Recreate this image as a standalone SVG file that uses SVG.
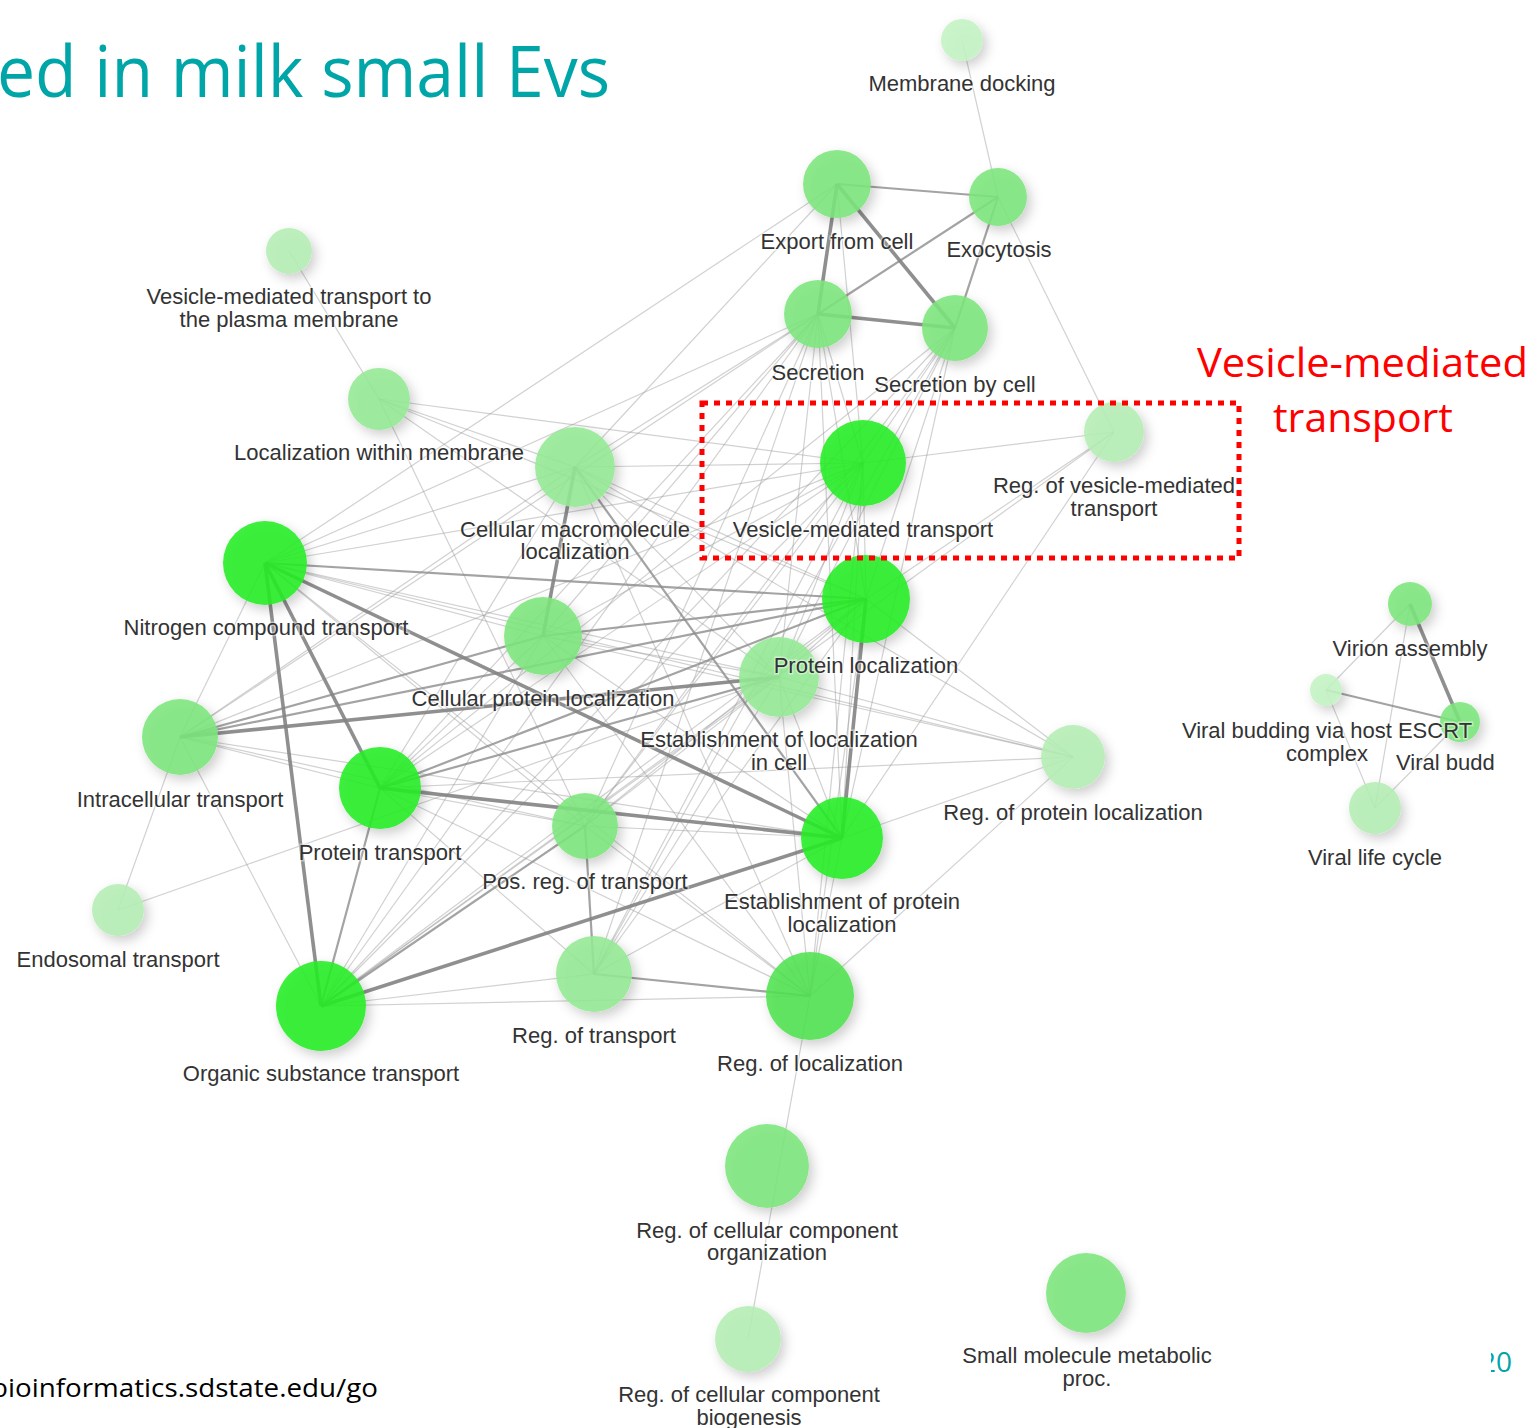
<svg xmlns="http://www.w3.org/2000/svg" width="1535" height="1428" viewBox="0 0 1535 1428">
  <style>
    .e1 { stroke: #9a9a9a; stroke-opacity: 0.45; stroke-width: 1.2; }
    .e2 { stroke: #8c8c8c; stroke-opacity: 0.8; stroke-width: 2.2; }
    .e3 { stroke: #838383; stroke-opacity: 0.9; stroke-width: 3.6; }
    .node circle { filter: url(#shadow); fill-opacity: 0.88; }
    .lbl { font-family: "Liberation Sans", Arial, sans-serif; font-size: 22px; fill: #333; text-anchor: middle;
           stroke: #fff; stroke-opacity: 0.45; stroke-width: 3; paint-order: stroke; }
    .bright { fill: #22ee22; }
    .rl { fill: #50e250; }
    .mid { fill: #7ce67c; }
    .midl { fill: #94e994; }
    .light { fill: #b4eeb4; }
    .pale { fill: #c4f3c4; }
  </style>
  <defs>
    <filter id="shadow" x="-40%" y="-40%" width="190%" height="190%">
      <feDropShadow dx="4" dy="5" stdDeviation="6" flood-color="#000" flood-opacity="0.22"/>
    </filter>
    <clipPath id="pageclip">
      <rect x="1491" y="1330" width="44" height="60"/>
    </clipPath>
  </defs>

  <rect width="1535" height="1428" fill="#fff"/>

  <!-- slide title, cut by the left edge -->
  <text x="-3" y="97" font-family="'Open Sans', 'Noto Sans', sans-serif" font-size="72" fill="#00a5a8" textLength="613" lengthAdjust="spacingAndGlyphs">ed in milk small Evs</text>

  <!-- connectors -->
  <g id="edges" fill="none">
    <g class="e1">
      <line x1="962" y1="40" x2="998" y2="197"/>
      <line x1="998" y1="197" x2="1114" y2="432"/>
      <line x1="289" y1="251" x2="379" y2="399"/>
      <line x1="379" y1="399" x2="575" y2="467"/>
      <line x1="379" y1="399" x2="863" y2="463"/>
      <line x1="379" y1="399" x2="866" y2="599"/>
      <line x1="379" y1="399" x2="779" y2="677"/>
      <line x1="379" y1="399" x2="585" y2="826"/>
      <line x1="265" y1="563" x2="575" y2="467"/>
      <line x1="265" y1="563" x2="863" y2="463"/>
      <line x1="265" y1="563" x2="543" y2="636"/>
      <line x1="265" y1="563" x2="779" y2="677"/>
      <line x1="265" y1="563" x2="180" y2="737"/>
      <line x1="265" y1="563" x2="837" y2="184"/>
      <line x1="265" y1="563" x2="818" y2="314"/>
      <line x1="265" y1="563" x2="1073" y2="757"/>
      <line x1="265" y1="563" x2="810" y2="996"/>
      <line x1="180" y1="737" x2="118" y2="910"/>
      <line x1="180" y1="737" x2="321" y2="1006"/>
      <line x1="180" y1="737" x2="863" y2="463"/>
      <line x1="180" y1="737" x2="575" y2="467"/>
      <line x1="180" y1="737" x2="380" y2="788"/>
      <line x1="180" y1="737" x2="842" y2="838"/>
      <line x1="180" y1="737" x2="818" y2="314"/>
      <line x1="118" y1="910" x2="779" y2="677"/>
      <line x1="380" y1="788" x2="863" y2="463"/>
      <line x1="380" y1="788" x2="818" y2="314"/>
      <line x1="380" y1="788" x2="955" y2="328"/>
      <line x1="380" y1="788" x2="543" y2="636"/>
      <line x1="380" y1="788" x2="585" y2="826"/>
      <line x1="380" y1="788" x2="594" y2="974"/>
      <line x1="380" y1="788" x2="810" y2="996"/>
      <line x1="380" y1="788" x2="1073" y2="757"/>
      <line x1="380" y1="788" x2="575" y2="467"/>
      <line x1="321" y1="1006" x2="863" y2="463"/>
      <line x1="321" y1="1006" x2="866" y2="599"/>
      <line x1="321" y1="1006" x2="543" y2="636"/>
      <line x1="321" y1="1006" x2="779" y2="677"/>
      <line x1="321" y1="1006" x2="594" y2="974"/>
      <line x1="321" y1="1006" x2="810" y2="996"/>
      <line x1="321" y1="1006" x2="818" y2="314"/>
      <line x1="321" y1="1006" x2="955" y2="328"/>
      <line x1="321" y1="1006" x2="1114" y2="432"/>
      <line x1="543" y1="636" x2="863" y2="463"/>
      <line x1="543" y1="636" x2="779" y2="677"/>
      <line x1="543" y1="636" x2="842" y2="838"/>
      <line x1="543" y1="636" x2="810" y2="996"/>
      <line x1="543" y1="636" x2="1073" y2="757"/>
      <line x1="543" y1="636" x2="818" y2="314"/>
      <line x1="575" y1="467" x2="863" y2="463"/>
      <line x1="575" y1="467" x2="837" y2="184"/>
      <line x1="575" y1="467" x2="818" y2="314"/>
      <line x1="575" y1="467" x2="779" y2="677"/>
      <line x1="575" y1="467" x2="866" y2="599"/>
      <line x1="575" y1="467" x2="1073" y2="757"/>
      <line x1="575" y1="467" x2="810" y2="996"/>
      <line x1="863" y1="463" x2="866" y2="599"/>
      <line x1="863" y1="463" x2="779" y2="677"/>
      <line x1="863" y1="463" x2="818" y2="314"/>
      <line x1="863" y1="463" x2="955" y2="328"/>
      <line x1="863" y1="463" x2="837" y2="184"/>
      <line x1="863" y1="463" x2="1114" y2="432"/>
      <line x1="863" y1="463" x2="585" y2="826"/>
      <line x1="863" y1="463" x2="594" y2="974"/>
      <line x1="863" y1="463" x2="810" y2="996"/>
      <line x1="863" y1="463" x2="842" y2="838"/>
      <line x1="866" y1="599" x2="1073" y2="757"/>
      <line x1="866" y1="599" x2="779" y2="677"/>
      <line x1="866" y1="599" x2="818" y2="314"/>
      <line x1="866" y1="599" x2="955" y2="328"/>
      <line x1="866" y1="599" x2="1114" y2="432"/>
      <line x1="866" y1="599" x2="594" y2="974"/>
      <line x1="866" y1="599" x2="585" y2="826"/>
      <line x1="866" y1="599" x2="810" y2="996"/>
      <line x1="842" y1="838" x2="1073" y2="757"/>
      <line x1="842" y1="838" x2="810" y2="996"/>
      <line x1="842" y1="838" x2="779" y2="677"/>
      <line x1="842" y1="838" x2="594" y2="974"/>
      <line x1="842" y1="838" x2="585" y2="826"/>
      <line x1="842" y1="838" x2="1114" y2="432"/>
      <line x1="842" y1="838" x2="818" y2="314"/>
      <line x1="842" y1="838" x2="955" y2="328"/>
      <line x1="779" y1="677" x2="810" y2="996"/>
      <line x1="779" y1="677" x2="594" y2="974"/>
      <line x1="779" y1="677" x2="585" y2="826"/>
      <line x1="779" y1="677" x2="818" y2="314"/>
      <line x1="779" y1="677" x2="955" y2="328"/>
      <line x1="779" y1="677" x2="1073" y2="757"/>
      <line x1="1073" y1="757" x2="810" y2="996"/>
      <line x1="810" y1="996" x2="748" y2="1339"/>
      <line x1="585" y1="826" x2="810" y2="996"/>
      <line x1="585" y1="826" x2="818" y2="314"/>
      <line x1="585" y1="826" x2="955" y2="328"/>
      <line x1="585" y1="826" x2="265" y2="563"/>
      <line x1="585" y1="826" x2="180" y2="737"/>
      <line x1="594" y1="974" x2="818" y2="314"/>
      <line x1="594" y1="974" x2="955" y2="328"/>
      <line x1="1410" y1="604" x2="1326" y2="690"/>
      <line x1="1410" y1="604" x2="1375" y2="808"/>
      <line x1="1326" y1="690" x2="1375" y2="808"/>
      <line x1="1460" y1="722" x2="1375" y2="808"/>
    </g>
    <g class="e2">
      <line x1="837" y1="184" x2="998" y2="197"/>
      <line x1="818" y1="314" x2="998" y2="197"/>
      <line x1="955" y1="328" x2="998" y2="197"/>
      <line x1="265" y1="563" x2="866" y2="599"/>
      <line x1="543" y1="636" x2="866" y2="599"/>
      <line x1="380" y1="788" x2="866" y2="599"/>
      <line x1="380" y1="788" x2="321" y2="1006"/>
      <line x1="321" y1="1006" x2="585" y2="826"/>
      <line x1="585" y1="826" x2="594" y2="974"/>
      <line x1="594" y1="974" x2="810" y2="996"/>
      <line x1="575" y1="467" x2="842" y2="838"/>
      <line x1="180" y1="737" x2="543" y2="636"/>
      <line x1="380" y1="788" x2="779" y2="677"/>
      <line x1="180" y1="737" x2="866" y2="599"/>
      <line x1="1326" y1="690" x2="1460" y2="722"/>
    </g>
    <g class="e3">
      <line x1="837" y1="184" x2="818" y2="314"/>
      <line x1="837" y1="184" x2="955" y2="328"/>
      <line x1="818" y1="314" x2="955" y2="328"/>
      <line x1="575" y1="467" x2="543" y2="636"/>
      <line x1="265" y1="563" x2="380" y2="788"/>
      <line x1="265" y1="563" x2="321" y2="1006"/>
      <line x1="265" y1="563" x2="842" y2="838"/>
      <line x1="180" y1="737" x2="779" y2="677"/>
      <line x1="380" y1="788" x2="842" y2="838"/>
      <line x1="866" y1="599" x2="842" y2="838"/>
      <line x1="321" y1="1006" x2="842" y2="838"/>
      <line x1="1410" y1="604" x2="1460" y2="722"/>
    </g>
  </g>

  <!-- nodes -->
  <g id="nodes">
    <g id="n-membrane-docking" class="node"><circle cx="962" cy="40" r="21" class="pale"/></g>
    <g id="n-export-from-cell" class="node"><circle cx="837" cy="184" r="34" class="mid"/></g>
    <g id="n-exocytosis" class="node"><circle cx="998" cy="197" r="29" class="mid"/></g>
    <g id="n-secretion" class="node"><circle cx="818" cy="314" r="34" class="mid"/></g>
    <g id="n-secretion-by-cell" class="node"><circle cx="955" cy="328" r="33" class="mid"/></g>
    <g id="n-vesicle-plasma-membrane" class="node"><circle cx="289" cy="251" r="23" class="light"/></g>
    <g id="n-localization-within-membrane" class="node"><circle cx="379" cy="399" r="31" class="midl"/></g>
    <g id="n-cellular-macromolecule-localization" class="node"><circle cx="575" cy="467" r="40" class="midl"/></g>
    <g id="n-vesicle-mediated-transport" class="node"><circle cx="863" cy="463" r="43" class="bright"/></g>
    <g id="n-reg-vesicle-mediated-transport" class="node"><circle cx="1114" cy="432" r="30" class="light"/></g>
    <g id="n-nitrogen-compound-transport" class="node"><circle cx="265" cy="563" r="42" class="bright"/></g>
    <g id="n-protein-localization" class="node"><circle cx="866" cy="599" r="44" class="bright"/></g>
    <g id="n-cellular-protein-localization" class="node"><circle cx="543" cy="636" r="39" class="mid"/></g>
    <g id="n-establishment-localization-in-cell" class="node"><circle cx="779" cy="677" r="40" class="midl"/></g>
    <g id="n-intracellular-transport" class="node"><circle cx="180" cy="737" r="38" class="mid"/></g>
    <g id="n-protein-transport" class="node"><circle cx="380" cy="788" r="41" class="bright"/></g>
    <g id="n-pos-reg-transport" class="node"><circle cx="585" cy="826" r="33" class="mid"/></g>
    <g id="n-establishment-protein-localization" class="node"><circle cx="842" cy="838" r="41" class="bright"/></g>
    <g id="n-reg-protein-localization" class="node"><circle cx="1073" cy="757" r="32" class="light"/></g>
    <g id="n-endosomal-transport" class="node"><circle cx="118" cy="910" r="26" class="light"/></g>
    <g id="n-organic-substance-transport" class="node"><circle cx="321" cy="1006" r="45" class="bright"/></g>
    <g id="n-reg-transport" class="node"><circle cx="594" cy="974" r="38" class="midl"/></g>
    <g id="n-reg-localization" class="node"><circle cx="810" cy="996" r="44" class="rl"/></g>
    <g id="n-reg-ccc-organization" class="node"><circle cx="767" cy="1166" r="42" class="mid"/></g>
    <g id="n-reg-ccc-biogenesis" class="node"><circle cx="748" cy="1339" r="33" class="light"/></g>
    <g id="n-small-molecule-metabolic" class="node"><circle cx="1086" cy="1293" r="40" class="mid"/></g>
    <g id="n-virion-assembly" class="node"><circle cx="1410" cy="604" r="22" class="mid"/></g>
    <g id="n-viral-budding-escrt" class="node"><circle cx="1326" cy="690" r="16" class="pale"/></g>
    <g id="n-viral-budding" class="node"><circle cx="1460" cy="722" r="20" class="mid"/></g>
    <g id="n-viral-life-cycle" class="node"><circle cx="1375" cy="808" r="26" class="light"/></g>
  </g>

  <!-- node labels, drawn above every circle -->
  <g id="labels">
    <text id="l-membrane-docking" class="lbl" x="962" y="91">Membrane docking</text>
    <text id="l-export-from-cell" class="lbl" x="837" y="249">Export from cell</text>
    <text id="l-exocytosis" class="lbl" x="999" y="257">Exocytosis</text>
    <text id="l-secretion" class="lbl" x="818" y="380">Secretion</text>
    <text id="l-secretion-by-cell" class="lbl" x="955" y="392">Secretion by cell</text>
    <text id="l-vesicle-plasma-membrane" class="lbl" x="289" y="304">Vesicle-mediated transport to<tspan x="289" dy="23">the plasma membrane</tspan></text>
    <text id="l-localization-within-membrane" class="lbl" x="379" y="460">Localization within membrane</text>
    <text id="l-cellular-macromolecule-localization" class="lbl" x="575" y="537">Cellular macromolecule<tspan x="575" dy="22">localization</tspan></text>
    <text id="l-vesicle-mediated-transport" class="lbl" x="863" y="537">Vesicle-mediated transport</text>
    <text id="l-reg-vesicle-mediated-transport" class="lbl" x="1114" y="493">Reg. of vesicle-mediated<tspan x="1114" dy="23">transport</tspan></text>
    <text id="l-nitrogen-compound-transport" class="lbl" x="266" y="635">Nitrogen compound transport</text>
    <text id="l-protein-localization" class="lbl" x="866" y="673">Protein localization</text>
    <text id="l-cellular-protein-localization" class="lbl" x="543" y="706">Cellular protein localization</text>
    <text id="l-establishment-localization-in-cell" class="lbl" x="779" y="747">Establishment of localization<tspan x="779" dy="23">in cell</tspan></text>
    <text id="l-intracellular-transport" class="lbl" x="180" y="807">Intracellular transport</text>
    <text id="l-protein-transport" class="lbl" x="380" y="860">Protein transport</text>
    <text id="l-pos-reg-transport" class="lbl" x="585" y="889">Pos. reg. of transport</text>
    <text id="l-establishment-protein-localization" class="lbl" x="842" y="909">Establishment of protein<tspan x="842" dy="23">localization</tspan></text>
    <text id="l-reg-protein-localization" class="lbl" x="1073" y="820">Reg. of protein localization</text>
    <text id="l-endosomal-transport" class="lbl" x="118" y="967">Endosomal transport</text>
    <text id="l-organic-substance-transport" class="lbl" x="321" y="1081">Organic substance transport</text>
    <text id="l-reg-transport" class="lbl" x="594" y="1043">Reg. of transport</text>
    <text id="l-reg-localization" class="lbl" x="810" y="1071">Reg. of localization</text>
    <text id="l-reg-ccc-organization" class="lbl" x="767" y="1238">Reg. of cellular component<tspan x="767" dy="22">organization</tspan></text>
    <text id="l-reg-ccc-biogenesis" class="lbl" x="749" y="1402">Reg. of cellular component<tspan x="749" dy="23">biogenesis</tspan></text>
    <text id="l-small-molecule-metabolic" class="lbl" x="1087" y="1363">Small molecule metabolic<tspan x="1087" dy="23">proc.</tspan></text>
    <text id="l-virion-assembly" class="lbl" x="1410" y="656">Virion assembly</text>
    <text id="l-viral-budding-escrt" class="lbl" x="1327" y="738">Viral budding via host ESCRT<tspan x="1327" dy="23">complex</tspan></text>
    <text id="l-viral-budding" class="lbl" x="1396" y="770" style="text-anchor:start">Viral budd</text>
    <text id="l-viral-life-cycle" class="lbl" x="1375" y="865">Viral life cycle</text>
  </g>

  <!-- highlight box and its callout -->
  <rect x="702" y="403" width="537" height="155" fill="none" stroke="#ff0000" stroke-width="5" stroke-dasharray="6 6"/>
  <text x="1197" y="377" font-family="'Open Sans', 'Noto Sans', sans-serif" font-size="41" fill="#ff0000" textLength="331" lengthAdjust="spacingAndGlyphs">Vesicle-mediated</text>
  <text x="1273" y="432" font-family="'Open Sans', 'Noto Sans', sans-serif" font-size="41" fill="#ff0000" textLength="180" lengthAdjust="spacingAndGlyphs">transport</text>

  <!-- footer -->
  <text x="-9" y="1397" font-family="'Open Sans', 'Noto Sans', sans-serif" font-size="26" fill="#000" textLength="387" lengthAdjust="spacingAndGlyphs">bioinformatics.sdstate.edu/go</text>
  <text x="1480" y="1372" clip-path="url(#pageclip)" font-family="'Open Sans', 'Noto Sans', sans-serif" font-size="28" fill="#00a5a8">20</text>
</svg>
